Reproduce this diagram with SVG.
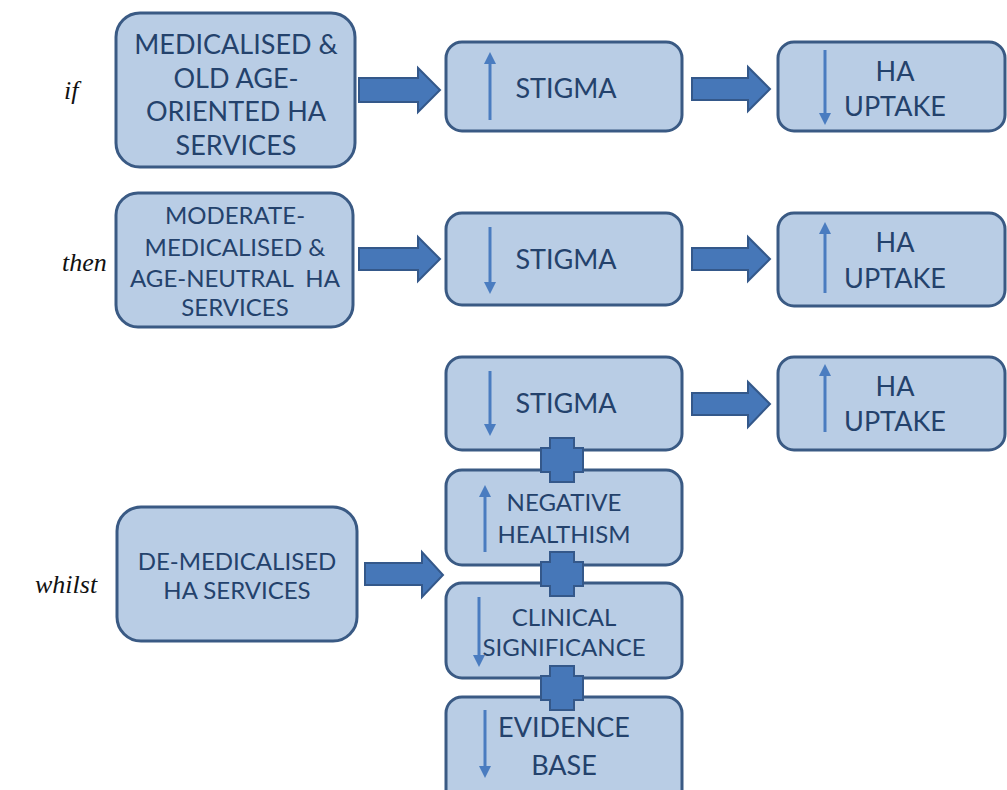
<svg xmlns="http://www.w3.org/2000/svg" width="1007" height="790" viewBox="0 0 1007 790">
<defs>
<style>
.box{fill:#b9cde5;stroke:#3a5a84;stroke-width:3}
.t{font-family:Lato,"Liberation Sans",sans-serif;fill:#24426c;text-anchor:middle;white-space:pre}
.big{font-size:27px}
.mid{font-size:24px}
.lbl{font-family:"Liberation Serif",serif;font-style:italic;font-size:26px;fill:#111}
.arr{fill:#4677b8;stroke:#34588a;stroke-width:2}
.plus{fill:#4677b8;stroke:#34588a;stroke-width:2}
.ind{stroke:#4a7cc0;stroke-width:3;fill:none}
</style>
<marker id="ah" viewBox="0 0 10 10" refX="5" refY="5" markerWidth="4" markerHeight="4" orient="auto-start-reverse" markerUnits="strokeWidth">
<path d="M0,0 L10,5 L0,10 z" fill="#4a7cc0"/>
</marker>
</defs>
<rect width="1007" height="790" fill="#fff"/>

<g id="labels">
<text class="lbl" x="64" y="99">if</text>
<text class="lbl" x="62" y="271">then</text>
<text class="lbl" x="35" y="593">whilst</text>
</g>

<g id="n-medicalised">
<rect class="box" x="116" y="13" width="239" height="154" rx="24"/>
<text class="t big" x="236" y="54">MEDICALISED &amp;</text>
<text class="t big" x="236" y="88">OLD AGE-</text>
<text class="t big" x="236" y="121">ORIENTED HA</text>
<text class="t big" x="236" y="155">SERVICES</text>
</g>
<g id="n-stigma1">
<rect class="box" x="446" y="42" width="236" height="89" rx="16"/>
<line class="ind" x1="490" y1="120" x2="490" y2="58" marker-end="url(#ah)"/>
<text class="t big" x="566" y="98">STIGMA</text>
</g>
<g id="n-uptake1">
<rect class="box" x="778" y="42" width="227" height="89" rx="16"/>
<line class="ind" x1="825" y1="50" x2="825" y2="119" marker-end="url(#ah)"/>
<text class="t big" x="895" y="81">HA</text>
<text class="t big" x="895" y="116">UPTAKE</text>
</g>

<g id="n-moderate">
<rect class="box" x="116" y="193" width="237" height="134" rx="22"/>
<text class="t mid" x="235" y="224">MODERATE-</text>
<text class="t mid" x="235" y="256">MEDICALISED &amp;</text>
<text class="t mid" x="235" y="287" xml:space="preserve">AGE-NEUTRAL  HA</text>
<text class="t mid" x="235" y="316">SERVICES</text>
</g>
<g id="n-stigma2">
<rect class="box" x="446" y="213" width="236" height="92" rx="16"/>
<line class="ind" x1="490" y1="227" x2="490" y2="288" marker-end="url(#ah)"/>
<text class="t big" x="566" y="269">STIGMA</text>
</g>
<g id="n-uptake2">
<rect class="box" x="778" y="213" width="227" height="93" rx="16"/>
<line class="ind" x1="825" y1="293" x2="825" y2="228" marker-end="url(#ah)"/>
<text class="t big" x="895" y="252">HA</text>
<text class="t big" x="895" y="288">UPTAKE</text>
</g>

<g id="n-demedicalised">
<rect class="box" x="117" y="507" width="240" height="134" rx="24"/>
<text class="t mid" x="237" y="570">DE-MEDICALISED</text>
<text class="t mid" x="237" y="599">HA SERVICES</text>
</g>
<g id="n-stigma3">
<rect class="box" x="446" y="357" width="236" height="93" rx="16"/>
<line class="ind" x1="490" y1="371" x2="490" y2="430" marker-end="url(#ah)"/>
<text class="t big" x="566" y="413">STIGMA</text>
</g>
<g id="n-uptake3">
<rect class="box" x="778" y="357" width="227" height="93" rx="16"/>
<line class="ind" x1="825" y1="432" x2="825" y2="370" marker-end="url(#ah)"/>
<text class="t big" x="895" y="396">HA</text>
<text class="t big" x="895" y="431">UPTAKE</text>
</g>
<g id="n-healthism">
<rect class="box" x="446" y="470" width="236" height="95" rx="16"/>
<line class="ind" x1="485" y1="552" x2="485" y2="491" marker-end="url(#ah)"/>
<text class="t mid" x="564" y="511">NEGATIVE</text>
<text class="t mid" x="564" y="543">HEALTHISM</text>
</g>
<g id="n-clinical">
<rect class="box" x="446" y="583" width="236" height="95" rx="16"/>
<line class="ind" x1="479" y1="597" x2="479" y2="661" marker-end="url(#ah)"/>
<text class="t mid" x="564" y="626">CLINICAL</text>
<text class="t mid" x="564" y="656">SIGNIFICANCE</text>
</g>
<g id="n-evidence">
<rect class="box" x="446" y="697" width="236" height="110" rx="16"/>
<line class="ind" x1="485" y1="710" x2="485" y2="772" marker-end="url(#ah)"/>
<text class="t big" x="564" y="737">EVIDENCE</text>
<text class="t big" x="564" y="775">BASE</text>
</g>

<g id="connectors">
<path class="arr" d="M359,78 H418 V68 L440,90 L418,112 V102 H359 Z"/>
<path class="arr" d="M692,78 H748 V67 L770,89 L748,111 V100 H692 Z"/>
<path class="arr" d="M359,248 H418 V237 L440,259 L418,281 V270 H359 Z"/>
<path class="arr" d="M692,248 H748 V237 L770,259 L748,281 V270 H692 Z"/>
<path class="arr" d="M692,393 H748 V382 L770,404 L748,427 V415 H692 Z"/>
<path class="arr" d="M365,563 H422 V552 L443,575 L422,597 V585 H365 Z"/>
<path class="plus" d="M550,438 H574 V448 H583 V472 H574 V482 H550 V472 H541 V448 H550 Z"/>
<path class="plus" d="M550,552 H574 V562 H583 V586 H574 V596 H550 V586 H541 V562 H550 Z"/>
<path class="plus" d="M550,666 H574 V676 H583 V700 H574 V710 H550 V700 H541 V676 H550 Z"/>
</g>
</svg>
